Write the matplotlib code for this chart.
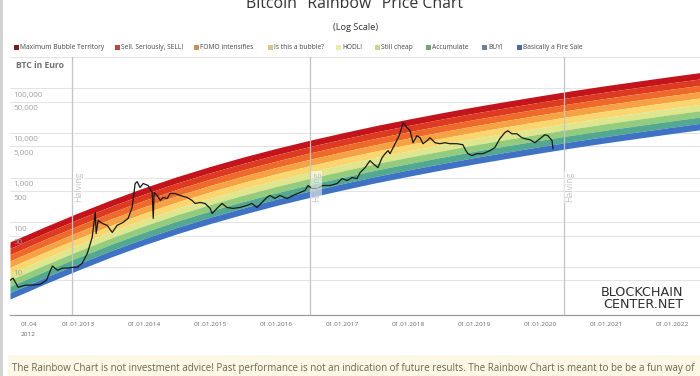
import pandas as pd
import matplotlib.pyplot as plt
import matplotlib.transforms as mtransforms
from matplotlib.patches import Rectangle

plt.rcParams['font.family'] = ['Open Sans', 'DejaVu Sans']

# rainbow edges (EUR): lowest blue edge and highest red edge
band_dates = ['2011-12-20', '2012-07-01', '2013-01-01', '2013-07-01', '2014-01-01', '2014-07-01',
              '2015-01-01', '2015-07-01', '2016-01-01', '2016-07-01', '2017-01-01', '2017-07-01',
              '2018-01-01', '2018-07-01', '2019-01-01', '2019-07-01', '2020-01-01', '2020-07-01',
              '2021-01-01', '2021-07-01', '2022-01-01', '2022-06-05']
band_floor = [1.91, 4.17, 8.51, 16.6, 31.1, 55.0, 93.1, 150, 236, 356, 525, 757,
              1064, 1469, 2009, 2673, 3548, 4645, 6000, 7621, 9683, 11750]
band_top = [36.3, 79.4, 162, 316, 593, 1047, 1774, 2864, 4487, 6776, 10000, 14420,
            20280, 27990, 38280, 50930, 67610, 88510, 114300, 145200, 184500, 223900]

band_names = ['Maximum Bubble Territory', 'Sell. Seriously, SELL!', 'FOMO intensifies',
              'Is this a bubble?', 'HODL!', 'Still cheap', 'Accumulate', 'BUY!',
              'Basically a Fire Sale']
band_colors = ['#c3141b', '#dc3b22', '#ee6a2b', '#f6a244', '#fbd66e', '#dfe68e',
               '#93cc7d', '#52a98f', '#3f72c3']
legend_colors = ['#7b1d1d', '#b8473f', '#c99157', '#d8c78a', '#efe9a8', '#c6d79c',
                 '#6fa77c', '#6f8196', '#4c6ba6']

price_dates = ['2011-12-20', '2012-01-06', '2012-02-03', '2012-03-14', '2012-04-22', '2012-06-05',
               '2012-07-09', '2012-07-31', '2012-08-11', '2012-09-08', '2012-10-06', '2012-11-02',
               '2012-11-29', '2012-12-27', '2013-01-23', '2013-02-20', '2013-03-19', '2013-04-05',
               '2013-04-10', '2013-04-21', '2013-05-14', '2013-06-10', '2013-07-08', '2013-08-04',
               '2013-09-06', '2013-10-04', '2013-10-26', '2013-11-12', '2013-11-23', '2013-12-09',
               '2013-12-26', '2014-01-23', '2014-02-14', '2014-02-20', '2014-02-25', '2014-03-14',
               '2014-03-31', '2014-04-16', '2014-05-08', '2014-05-25', '2014-06-21', '2014-07-19',
               '2014-08-27', '2014-09-23', '2014-10-10', '2014-11-06', '2014-12-04', '2015-01-01',
               '2015-01-12', '2015-02-08', '2015-03-08', '2015-04-04', '2015-05-07', '2015-06-15',
               '2015-07-24', '2015-08-20', '2015-09-17', '2015-10-15', '2015-11-11', '2015-11-28',
               '2015-12-26', '2016-01-22', '2016-03-02', '2016-04-04', '2016-05-13', '2016-06-09',
               '2016-06-26', '2016-07-18', '2016-08-15', '2016-09-17', '2016-10-26', '2016-12-04',
               '2017-01-01', '2017-01-28', '2017-02-25', '2017-03-24', '2017-04-10', '2017-05-08',
               '2017-06-04', '2017-06-21', '2017-07-18', '2017-08-10', '2017-08-27', '2017-09-12',
               '2017-09-23', '2017-10-21', '2017-11-12', '2017-12-05', '2017-12-27', '2018-01-12',
               '2018-01-28', '2018-02-19', '2018-03-08', '2018-03-24', '2018-04-16', '2018-05-02',
               '2018-05-30', '2018-06-26', '2018-07-24', '2018-08-20', '2018-09-28', '2018-10-31',
               '2018-11-17', '2018-11-28', '2018-12-20', '2019-01-17', '2019-02-19', '2019-03-30',
               '2019-04-26', '2019-05-24', '2019-06-20', '2019-07-07', '2019-07-29', '2019-08-26',
               '2019-09-23', '2019-10-10', '2019-11-06', '2019-12-04', '2020-01-01', '2020-01-28',
               '2020-02-14', '2020-03-08', '2020-03-13']
price_eur = [5.0, 5.6, 3.5, 3.9, 3.9, 4.1, 5.0, 8.4, 10.4, 8.4, 9.4, 9.4, 9.8, 9.8,
             12.1, 20, 46, 166, 56, 110, 94, 85, 59, 85, 99, 122, 214, 735, 810, 599, 735,
             664, 463, 122, 463, 397, 307, 358, 340, 440, 440, 397, 358, 307, 263, 277, 263,
             204, 157, 204, 263, 214, 204, 214, 238, 263, 214, 277, 358, 397, 340,
             397, 340, 397, 463, 513, 664, 569, 569, 664, 664, 735,
             950, 857, 1000, 950, 1290, 1670, 2390, 2050, 1670, 2790, 3430, 4000, 3430, 5730,
             8640, 16800, 13000,
             11200, 6030, 8640, 7800, 5730, 6680, 7800, 6030, 5730, 6030, 5730, 5730, 5440,
             4000, 3430, 3100,
             3430, 3430, 4000, 4670, 7410, 10100, 11200, 9570, 9570, 7800, 7410, 7040, 6030,
             7410, 9100, 8640, 6680, 4430]

halving_dates = ['2012-11-28', '2016-07-09', '2020-05-11']

y_ticks = [5, 10, 50, 100, 500, 1000, 5000, 10000, 50000, 100000, 500000]
y_labels = [10, 50, 100, 500, 1000, 5000, 10000, 50000, 100000]
x_ticks = ['2012-04-01', '2013-01-01', '2014-01-01', '2015-01-01', '2016-01-01', '2017-01-01',
           '2018-01-01', '2019-01-01', '2020-01-01', '2021-01-01', '2022-01-01']

W, H = 700, 376
fig = plt.figure(figsize=(W / 100, H / 100), dpi=100)
ax = fig.add_axes([10 / W, 1 - 315 / H, 690 / W, 258 / H])
ax.set_yscale('log')
ax.set_xlim(pd.Timestamp('2011-12-20'), pd.Timestamp('2022-06-05'))
ax.set_ylim(10 ** -0.077, 10 ** 5.676)

bd = pd.to_datetime(band_dates)
lo = pd.Series(band_floor, dtype=float)
hi = pd.Series(band_top, dtype=float)
n = len(band_names)
for i, col in enumerate(band_colors):
    # bands are equally thick in log space between the two read edges
    upper = lo * (hi / lo) ** ((n - i) / n)
    lower = lo * (hi / lo) ** ((n - i - 1) / n)
    ax.fill_between(bd, lower, upper, color=col, lw=0, zorder=2)

ax.plot(pd.to_datetime(price_dates), price_eur, color='#151a15', lw=0.9, zorder=4)

# halving markers
lab_tr = mtransforms.offset_copy(ax.transData, fig=fig, x=6, y=0, units='dots')
for d in halving_dates:
    ax.axvline(pd.Timestamp(d), color='#c4c4c4', lw=0.9, zorder=3)
    ax.text(pd.Timestamp(d), 620, 'Halving', transform=lab_tr, rotation=90, ha='center',
            va='center', fontsize=6.3, color='#c4c4c4', zorder=5,
            bbox=dict(facecolor='white', alpha=0.55, lw=0, pad=0.6))

ax.set_yticks(y_ticks)
ax.set_yticklabels([])
ax.tick_params(axis='y', length=0)
ax.minorticks_off()
ax.grid(axis='y', color='#e4e4e4', lw=0.8, zorder=0)
ytr = mtransforms.offset_copy(ax.get_yaxis_transform(), fig=fig, x=0, y=-7, units='dots')
for v in y_labels:
    ax.text(3 / 690, v, f'{v:,}', transform=ytr, ha='left', va='center', fontsize=5.8,
            color='#a0a0a0', zorder=5)
ax.text(6 / 690, 1 - 9 / 258, 'BTC in Euro', transform=ax.transAxes, ha='left', va='center',
        fontsize=6.2, fontweight='bold', color='#707070')

xt = pd.to_datetime(x_ticks)
ax.set_xticks(xt)
ax.set_xticklabels(['01.04\n2012'] + [d.strftime('%d.%m.%Y') for d in xt[1:]],
                   fontsize=4.6, color='#666666', linespacing=2.3)
ax.tick_params(axis='x', length=0, pad=5)
for s in ['top', 'left', 'right']:
    ax.spines[s].set_visible(False)
ax.spines['bottom'].set_color('#9a9a9a')
ax.spines['bottom'].set_linewidth(0.9)

# page decoration
fig.text(355 / W, 1 - 4 / H, 'Bitcoin "Rainbow" Price Chart', ha='center', va='center',
         fontsize=11.4, color='#333333')
fig.text(356 / W, 1 - 28 / H, '(Log Scale)', ha='center', va='center', fontsize=6.7,
         color='#333333')

leg_x = [14, 115, 194, 268, 336, 375, 426, 482, 517]
for x0, name, col in zip(leg_x, band_names, legend_colors):
    fig.patches.append(Rectangle((x0 / W, 1 - 50 / H), 5 / W, 5 / H, transform=fig.transFigure,
                                 color=col, lw=0))
    fig.text((x0 + 6) / W, 1 - 47.5 / H, name, ha='left', va='center', fontsize=4.8,
             color='#444444')

fig.text(683 / W, 1 - 298.5 / H, 'BLOCKCHAIN\nCENTER.NET', ha='right', va='center',
         fontsize=9.2, color='#2e2e2e', family='DejaVu Sans', linespacing=0.87,
         multialignment='right')

fig.patches.append(Rectangle((8 / W, 0), 692 / W, 21 / H, transform=fig.transFigure,
                             color='#fcf8e5', lw=0))
fig.patches.append(Rectangle((0, 0), 3 / W, 1, transform=fig.transFigure, color='#d2d2d2', lw=0))
fig.text(12 / W, 1 - 368 / H,
         'The Rainbow Chart is not investment advice! Past performance is not an indication of '
         'future results. The Rainbow Chart is meant to be be a fun way of',
         ha='left', va='center', fontsize=7.0, color='#6e6250')

fig.savefig('out.png', dpi=100)
